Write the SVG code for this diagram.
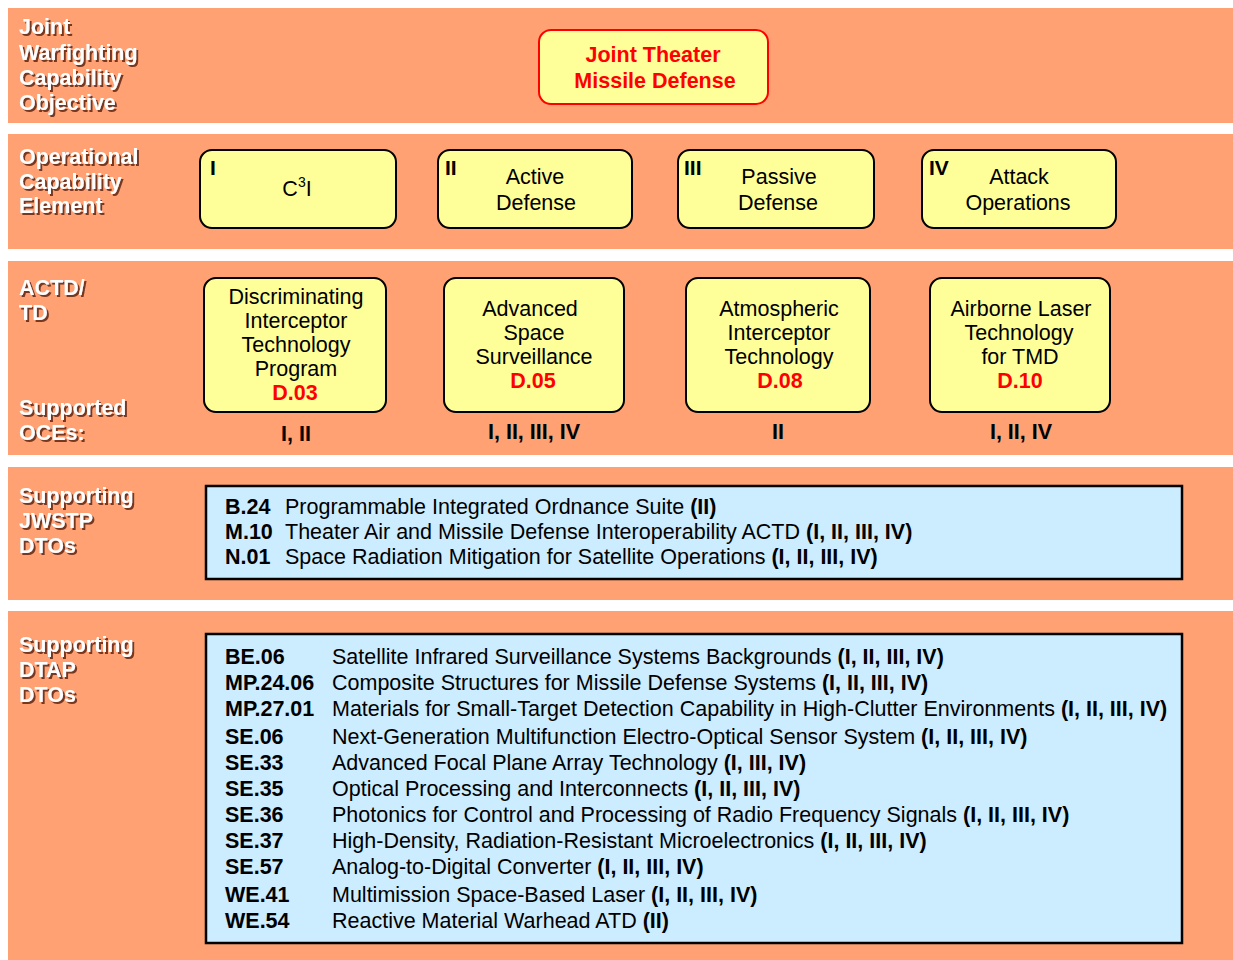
<svg xmlns="http://www.w3.org/2000/svg" width="1233" height="960" viewBox="0 0 1233 960">
<defs>
<filter id="sh" x="-5%" y="-20%" width="115%" height="150%">
<feDropShadow dx="2" dy="2" stdDeviation="0.4" flood-color="#6b2e12" flood-opacity="0.9"/>
</filter>
</defs>
<style>
text{font-family:"Liberation Sans",Arial,Helvetica,sans-serif;}
.band{fill:#FFA173;}
.lbl{fill:#ffffff;font-weight:bold;font-size:21.5px;filter:url(#sh);}
.box{fill:#FFFF99;stroke:#000;stroke-width:2;}
.red{fill:#FFFF99;stroke:#FF0000;stroke-width:2;}
.blue{fill:#CCECFF;stroke:#000;stroke-width:2.5;}
.t{font-size:21.5px;fill:#000;text-anchor:middle;}
.rn{font-size:21px;font-weight:bold;fill:#000;}
.code{font-size:21.5px;font-weight:bold;fill:#FF0000;text-anchor:middle;}
.oce{font-size:21.5px;font-weight:bold;fill:#000;text-anchor:middle;}
.jt{font-size:21.5px;font-weight:bold;fill:#FF0000;text-anchor:middle;}
.li{font-size:21.5px;fill:#000;}
.b{font-weight:bold;}
</style>
<g id="bands">
<rect class="band" x="8" y="8" width="1225" height="115"/>
<rect class="band" x="8" y="134" width="1225" height="115"/>
<rect class="band" x="8" y="261" width="1225" height="194"/>
<rect class="band" x="8" y="467" width="1225" height="133"/>
<rect class="band" x="8" y="611" width="1225" height="349"/>
</g>
<g id="labels">
<text class="lbl" x="19" y="34">Joint</text>
<text class="lbl" x="19" y="60">Warfighting</text>
<text class="lbl" x="19" y="85">Capability</text>
<text class="lbl" x="19" y="110">Objective</text>
<text class="lbl" x="19" y="164">Operational</text>
<text class="lbl" x="19" y="189">Capability</text>
<text class="lbl" x="19" y="213">Element</text>
<text class="lbl" x="19" y="295">ACTD/</text>
<text class="lbl" x="19" y="320">TD</text>
<text class="lbl" x="19" y="415">Supported</text>
<text class="lbl" x="19" y="440">OCEs:</text>
<text class="lbl" x="19" y="503">Supporting</text>
<text class="lbl" x="19" y="528">JWSTP</text>
<text class="lbl" x="19" y="553">DTOs</text>
<text class="lbl" x="19" y="652">Supporting</text>
<text class="lbl" x="19" y="677">DTAP</text>
<text class="lbl" x="19" y="702">DTOs</text>
</g>
<g id="jtmd">
<rect class="red" x="539" y="30" width="229" height="74" rx="12"/>
<text class="jt" x="653" y="62">Joint Theater</text>
<text class="jt" x="655" y="88">Missile Defense</text>
</g>
<g id="oce1">
<rect class="box" x="200" y="150" width="196" height="78" rx="12"/>
<text class="rn" x="210" y="175">I</text>
<text class="t" x="297" y="196">C<tspan font-size="14" dy="-9">3</tspan><tspan dy="9">I</tspan></text>
</g>
<g id="oce2">
<rect class="box" x="438" y="150" width="194" height="78" rx="12"/>
<text class="rn" x="445" y="175">II</text>
<text class="t" x="535" y="184">Active</text>
<text class="t" x="536" y="210">Defense</text>
</g>
<g id="oce3">
<rect class="box" x="678" y="150" width="196" height="78" rx="12"/>
<text class="rn" x="684" y="175">III</text>
<text class="t" x="779" y="184">Passive</text>
<text class="t" x="778" y="210">Defense</text>
</g>
<g id="oce4">
<rect class="box" x="922" y="150" width="194" height="78" rx="12"/>
<text class="rn" x="929" y="175">IV</text>
<text class="t" x="1019" y="184">Attack</text>
<text class="t" x="1018" y="210">Operations</text>
</g>
<g id="td1">
<rect class="box" x="204" y="278" width="182" height="134" rx="12"/>
<text class="t" x="296" y="304">Discriminating</text>
<text class="t" x="296" y="328">Interceptor</text>
<text class="t" x="296" y="352">Technology</text>
<text class="t" x="296" y="376">Program</text>
<text class="code" x="295" y="400">D.03</text>
</g>
<g id="td2">
<rect class="box" x="444" y="278" width="180" height="134" rx="12"/>
<text class="t" x="530" y="316">Advanced</text>
<text class="t" x="534" y="340">Space</text>
<text class="t" x="534" y="364">Surveillance</text>
<text class="code" x="533" y="388">D.05</text>
</g>
<g id="td3">
<rect class="box" x="686" y="278" width="184" height="134" rx="12"/>
<text class="t" x="779" y="316">Atmospheric</text>
<text class="t" x="779" y="340">Interceptor</text>
<text class="t" x="779" y="364">Technology</text>
<text class="code" x="780" y="388">D.08</text>
</g>
<g id="td4">
<rect class="box" x="930" y="278" width="180" height="134" rx="12"/>
<text class="t" x="1021" y="316">Airborne Laser</text>
<text class="t" x="1019" y="340">Technology</text>
<text class="t" x="1020" y="364">for TMD</text>
<text class="code" x="1020" y="388">D.10</text>
</g>
<g id="oces">
<text class="oce" x="296" y="441">I, II</text>
<text class="oce" x="534" y="439">I, II, III, IV</text>
<text class="oce" x="778" y="439">II</text>
<text class="oce" x="1021" y="439">I, II, IV</text>
</g>
<g id="jwstp">
<rect class="blue" x="206" y="486" width="976" height="93"/>
<text class="li b" x="225" y="514">B.24</text>
<text class="li" x="285" y="514">Programmable Integrated Ordnance Suite <tspan class="b">(II)</tspan></text>
<text class="li b" x="225" y="539">M.10</text>
<text class="li" x="285" y="539">Theater Air and Missile Defense Interoperability ACTD <tspan class="b">(I, II, III, IV)</tspan></text>
<text class="li b" x="225" y="564">N.01</text>
<text class="li" x="285" y="564">Space Radiation Mitigation for Satellite Operations <tspan class="b">(I, II, III, IV)</tspan></text>
</g>
<g id="dtap">
<rect class="blue" x="206" y="634" width="976" height="309"/>
<text class="li b" x="225" y="664">BE.06</text>
<text class="li" x="332" y="664">Satellite Infrared Surveillance Systems Backgrounds <tspan class="b">(I, II, III, IV)</tspan></text>
<text class="li b" x="225" y="690">MP.24.06</text>
<text class="li" x="332" y="690">Composite Structures for Missile Defense Systems <tspan class="b">(I, II, III, IV)</tspan></text>
<text class="li b" x="225" y="716">MP.27.01</text>
<text class="li" x="332" y="716">Materials for Small-Target Detection Capability in High-Clutter Environments <tspan class="b">(I, II, III, IV)</tspan></text>
<text class="li b" x="225" y="744">SE.06</text>
<text class="li" x="332" y="744">Next-Generation Multifunction Electro-Optical Sensor System <tspan class="b">(I, II, III, IV)</tspan></text>
<text class="li b" x="225" y="770">SE.33</text>
<text class="li" x="332" y="770">Advanced Focal Plane Array Technology <tspan class="b">(I, III, IV)</tspan></text>
<text class="li b" x="225" y="796">SE.35</text>
<text class="li" x="332" y="796">Optical Processing and Interconnects <tspan class="b">(I, II, III, IV)</tspan></text>
<text class="li b" x="225" y="822">SE.36</text>
<text class="li" x="332" y="822">Photonics for Control and Processing of Radio Frequency Signals <tspan class="b">(I, II, III, IV)</tspan></text>
<text class="li b" x="225" y="848">SE.37</text>
<text class="li" x="332" y="848">High-Density, Radiation-Resistant Microelectronics <tspan class="b">(I, II, III, IV)</tspan></text>
<text class="li b" x="225" y="874">SE.57</text>
<text class="li" x="332" y="874">Analog-to-Digital Converter <tspan class="b">(I, II, III, IV)</tspan></text>
<text class="li b" x="225" y="902">WE.41</text>
<text class="li" x="332" y="902">Multimission Space-Based Laser <tspan class="b">(I, II, III, IV)</tspan></text>
<text class="li b" x="225" y="928">WE.54</text>
<text class="li" x="332" y="928">Reactive Material Warhead ATD <tspan class="b">(II)</tspan></text>
</g>
<g id="connectors"></g>
</svg>
